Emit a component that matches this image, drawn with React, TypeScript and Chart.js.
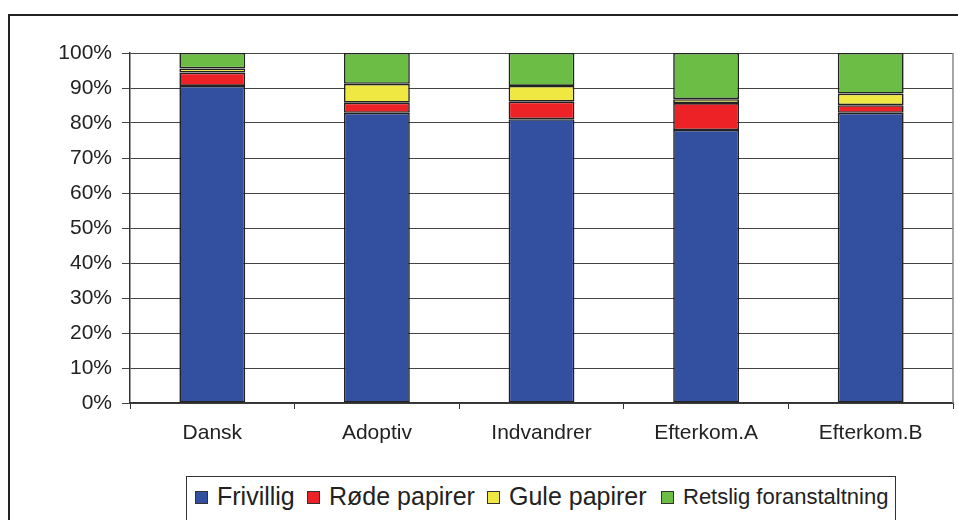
import React, { useEffect, useRef } from "react";
import { Chart, registerables } from "chart.js";

Chart.register(...registerables);

const categories = ["Dansk", "Adoptiv", "Indvandrer", "Efterkom.A", "Efterkom.B"];
const frivillig = [90.6, 82.9, 81.1, 78.0, 82.9];
const rodePapirer = [3.8, 2.9, 5.0, 7.7, 2.2];
const gulePapirer = [1.2, 5.4, 4.5, 1.1, 3.3];
const retslig = [4.4, 8.8, 9.4, 13.2, 11.6];
const seriesNames = ["Frivillig", "Røde papirer", "Gule papirer", "Retslig foranstaltning"];
const seriesColors = ["#334f9f", "#ec2227", "#efe842", "#6cbd45"];
const yTicks = [0, 10, 20, 30, 40, 50, 60, 70, 80, 90, 100];

const FONT = "'Liberation Sans', Arial, sans-serif";

const rightBorder = {
  id: "rightBorder",
  afterDraw(chart: any) {
    const { ctx, chartArea } = chart;
    ctx.save();
    ctx.strokeStyle = "#888";
    ctx.lineWidth = 1.5;
    ctx.beginPath();
    ctx.moveTo(chartArea.right, chartArea.top);
    ctx.lineTo(chartArea.right, chartArea.bottom);
    ctx.stroke();
    ctx.restore();
  },
};

export default function App() {
  const ref = useRef<HTMLCanvasElement>(null);
  useEffect(() => {
    if (!ref.current) return;
    const values = [frivillig, rodePapirer, gulePapirer, retslig];
    const chart = new Chart(ref.current, {
      type: "bar",
      data: {
        labels: categories,
        datasets: values.map((v, i) => ({
          label: seriesNames[i],
          data: v,
          backgroundColor: seriesColors[i],
          borderColor: "#222",
          borderWidth: 1.6,
          borderSkipped: false,
          barPercentage: 0.4,
          categoryPercentage: 1,
        })),
      },
      options: {
        animation: false,
        responsive: false,
        layout: { padding: { top: 53, right: 5, bottom: 57, left: 0 } },
        plugins: { legend: { display: false }, tooltip: { enabled: false } },
        scales: {
          x: {
            stacked: true,
            offset: true,
            afterFit: (s: any) => {
              s.height = 60;
            },
            grid: {
              offset: true,
              drawOnChartArea: false,
              tickLength: 6,
              color: "#333",
              lineWidth: 1,
            },
            border: { color: "#333", width: 1.5 },
            ticks: {
              color: "#222",
              padding: 12,
              font: { family: FONT, size: 21 },
            },
          },
          y: {
            stacked: true,
            min: 0,
            max: 100,
            afterFit: (s: any) => {
              s.width = 130;
            },
            afterBuildTicks: (s: any) => {
              s.ticks = yTicks.map((v) => ({ value: v }));
            },
            grid: { color: "#444", lineWidth: 1, tickLength: 8 },
            border: { color: "#333", width: 1.5 },
            ticks: {
              color: "#222",
              padding: 10,
              font: { family: FONT, size: 21 },
              callback: (v: any) => v + "%",
            },
          },
        },
      },
      plugins: [rightBorder],
    });
    return () => chart.destroy();
  }, []);

  const legendItems = [
    { sq: 195, tx: 217, size: 25 },
    { sq: 307, tx: 329, size: 25 },
    { sq: 487, tx: 509, size: 25 },
    { sq: 661, tx: 683, size: 22 },
  ];

  return (
    <div
      style={{
        position: "fixed",
        left: 0,
        top: 0,
        width: 958,
        height: 520,
        overflow: "hidden",
        background: "#fff",
        fontFamily: FONT,
      }}
    >
      <div
        style={{
          position: "absolute",
          left: 8,
          top: 14,
          width: 1000,
          height: 600,
          border: "2px solid #222",
        }}
      />
      <canvas
        ref={ref}
        width={958}
        height={520}
        style={{ position: "absolute", left: 0, top: 0 }}
      />
      <div
        style={{
          position: "absolute",
          left: 186,
          top: 476,
          width: 708,
          height: 100,
          border: "1.5px solid #333",
          background: "#fff",
        }}
      />
      {legendItems.map((it, i) => (
        <React.Fragment key={i}>
          <div
            style={{
              position: "absolute",
              left: it.sq,
              top: 491,
              width: 11,
              height: 11,
              background: seriesColors[i],
              border: "1.5px solid #333",
            }}
          />
          <div
            style={{
              position: "absolute",
              left: it.tx,
              top: it.size === 25 ? 483.8 : 486.4,
              fontSize: it.size,
              lineHeight: 1,
              color: "#222",
              whiteSpace: "nowrap",
            }}
          >
            {seriesNames[i]}
          </div>
        </React.Fragment>
      ))}
    </div>
  );
}
